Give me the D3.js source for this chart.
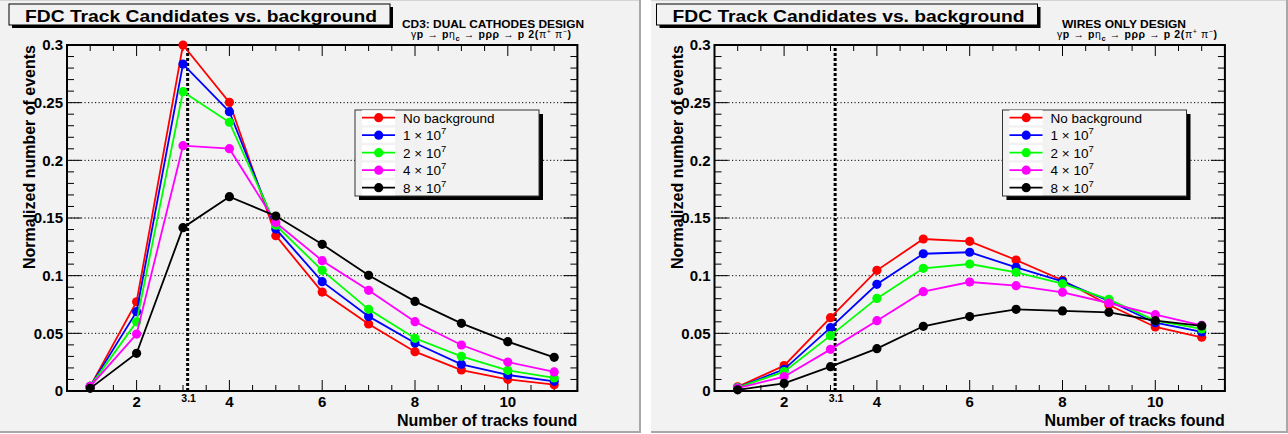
<!DOCTYPE html>
<html>
<head>
<meta charset="utf-8">
<script src="https://cdn.jsdelivr.net/npm/d3@7/dist/d3.min.js"></script>
<style>
  html, body { margin: 0; padding: 0; background: #ffffff; }
  svg { display: block; font-family: "Liberation Sans", Arial, Helvetica, sans-serif; }
</style>
</head>
<body>
<svg id="chart" width="1288" height="434"></svg>
<script>
// Number of tracks found (bin centres)
const trackCounts = [1, 2, 3, 4, 5, 6, 7, 8, 9, 10, 11];

// Background levels, one series per level
const seriesNames = ["No background", "1 × 10^7", "2 × 10^7", "4 × 10^7", "8 × 10^7"];
const seriesColors = ["#ff0000", "#0000ff", "#00ff00", "#ff00ff", "#000000"];

// CD3: dual cathodes design
const cd3NoBackground = [0.004, 0.0774, 0.300, 0.2503, 0.1347, 0.0858, 0.0581, 0.0341, 0.0182, 0.0101, 0.0055];
const cd3Bg1e7 = [0.004, 0.0688, 0.2835, 0.2422, 0.1405, 0.0948, 0.0647, 0.0416, 0.0231, 0.0139, 0.0084];
const cd3Bg2e7 = [0.004, 0.0600, 0.2595, 0.2330, 0.1437, 0.1046, 0.0708, 0.0457, 0.0301, 0.0179, 0.0113];
const cd3Bg4e7 = [0.004, 0.0494, 0.2127, 0.2101, 0.1460, 0.1130, 0.0873, 0.0601, 0.0399, 0.0251, 0.0165];
const cd3Bg8e7 = [0.0023, 0.0327, 0.1416, 0.1685, 0.1517, 0.1272, 0.1003, 0.0777, 0.0587, 0.0428, 0.0292];

// Wires only design
const wiresNoBackground = [0.0037, 0.0220, 0.0636, 0.1046, 0.1318, 0.1298, 0.1136, 0.0960, 0.0746, 0.0555, 0.0466];
const wiresBg1e7 = [0.0030, 0.0188, 0.0549, 0.0925, 0.1190, 0.1203, 0.1072, 0.0951, 0.0780, 0.0592, 0.0512];
const wiresBg2e7 = [0.0030, 0.0168, 0.0480, 0.0803, 0.1064, 0.1101, 0.1029, 0.0930, 0.0795, 0.0610, 0.0538];
const wiresBg4e7 = [0.0025, 0.0124, 0.0361, 0.0610, 0.0861, 0.0945, 0.0913, 0.0856, 0.0763, 0.0662, 0.0570];
const wiresBg8e7 = [0.0010, 0.0066, 0.0211, 0.0367, 0.0561, 0.0645, 0.0708, 0.0694, 0.0682, 0.0610, 0.0564];

// Axis ticks
const xTickValues = [2, 4, 6, 8, 10];
const yTickValues = [0, 0.05, 0.1, 0.15, 0.2, 0.25, 0.3];
const yTickLabels = ["0", "0.05", "0.1", "0.15", "0.2", "0.25", "0.3"];
const gridValues = [0.05, 0.1, 0.15, 0.2, 0.25];
const cutValue = 3.1;

const panels = [
  { dx: 0, canvas: [0, 0, 641, 433], design: "CD3: DUAL CATHODES DESIGN", designX: 402, designW: 182, reactionX: 411,
    series: [cd3NoBackground, cd3Bg1e7, cd3Bg2e7, cd3Bg4e7, cd3Bg8e7] },
  { dx: 647.5, canvas: [651, 0, 637, 433], design: "WIRES ONLY DESIGN", designX: 1062, designW: 124, reactionX: 1057,
    series: [wiresNoBackground, wiresBg1e7, wiresBg2e7, wiresBg4e7, wiresBg8e7] }
];

const svg = d3.select("#chart");
const bg = "#f2f2f2";

function drawPanel(p) {
  const [cx, cy, cw, ch] = p.canvas;
  const root = svg.append("g");

  // pad with bevelled edge
  root.append("rect").attr("x", cx).attr("y", cy).attr("width", cw).attr("height", ch).attr("fill", bg);
  root.append("line").attr("x1", cx).attr("x2", cx + cw).attr("y1", cy + 0.5).attr("y2", cy + 0.5)
    .attr("stroke", "#d4d4d4").attr("stroke-width", 1);
  root.append("rect").attr("x", cx + cw - 2).attr("y", cy).attr("width", 2).attr("height", ch).attr("fill", "#a8a8a8");
  root.append("rect").attr("x", cx).attr("y", cy + ch - 2).attr("width", cw).attr("height", 2).attr("fill", "#a8a8a8");

  const g = root.append("g").attr("transform", `translate(${p.dx},0)`);
  const x = d3.scaleLinear().domain([0.5, 11.5]).range([67, 577.4]);
  const y = d3.scaleLinear().domain([0, 0.3]).range([391, 45]);
  const [x0, x1] = x.range();
  const [y0, y1] = y.range();

  // horizontal dotted grid
  g.append("g").selectAll("line").data(gridValues).join("line")
    .attr("x1", x0).attr("x2", x1).attr("y1", d => y(d)).attr("y2", d => y(d))
    .attr("stroke", "#000").attr("stroke-width", 1).attr("stroke-dasharray", "1.2,2.3");

  // cut line
  g.append("line").attr("x1", x(cutValue)).attr("x2", x(cutValue)).attr("y1", y(0)).attr("y2", y(0.3))
    .attr("stroke", "#000").attr("stroke-width", 3).attr("stroke-dasharray", "3,2");

  // ticks on all four sides
  const ticks = g.append("g").attr("stroke", "#000").attr("stroke-width", 1);
  const xMinor = d3.range(1, 11.51, 0.5);
  xMinor.forEach(v => {
    const major = xTickValues.includes(v);
    const len = major ? 11 : 6;
    ticks.append("line").attr("x1", x(v)).attr("x2", x(v)).attr("y1", y0).attr("y2", y0 - len);
    ticks.append("line").attr("x1", x(v)).attr("x2", x(v)).attr("y1", y1).attr("y2", y1 + len);
  });
  const yMinor = d3.range(0, 0.3001, 0.01);
  yMinor.forEach((v, i) => {
    const len = i % 5 === 0 ? 14 : 7;
    ticks.append("line").attr("x1", x0).attr("x2", x0 + len).attr("y1", y(v)).attr("y2", y(v));
    ticks.append("line").attr("x1", x1).attr("x2", x1 - len).attr("y1", y(v)).attr("y2", y(v));
  });

  // frame
  g.append("rect").attr("x", x0).attr("y", y1).attr("width", x1 - x0).attr("height", y0 - y1)
    .attr("fill", "none").attr("stroke", "#000").attr("stroke-width", 2);

  // tick labels
  g.append("g").selectAll("text").data(xTickValues).join("text")
    .attr("x", d => x(d)).attr("y", 407).attr("text-anchor", "middle")
    .attr("font-size", 15).attr("font-weight", "bold").text(d => d);
  g.append("g").selectAll("text").data(yTickValues).join("text")
    .attr("x", 63).attr("y", d => y(d) + 5.3).attr("text-anchor", "end")
    .attr("font-size", 15).attr("font-weight", "bold").text((d, i) => yTickLabels[i]);
  g.append("text").attr("x", x(cutValue) + 1).attr("y", 402).attr("text-anchor", "middle")
    .attr("font-size", 10.5).attr("font-weight", "bold").text(cutValue);

  // axis titles
  g.append("text").attr("x", x1).attr("y", 426).attr("text-anchor", "end")
    .attr("font-size", 16).attr("font-weight", "bold").text("Number of tracks found");
  g.append("text").attr("transform", "translate(35,45) rotate(-90)").attr("text-anchor", "end")
    .attr("font-size", 16).attr("font-weight", "bold").text("Normalized number of events");

  // series
  const line = d3.line().x((d, i) => x(trackCounts[i])).y(d => y(d));
  p.series.forEach((vals, s) => {
    const sg = g.append("g");
    sg.append("path").attr("d", line(vals)).attr("fill", "none")
      .attr("stroke", seriesColors[s]).attr("stroke-width", 1.8);
    sg.selectAll("circle").data(vals).join("circle")
      .attr("cx", (d, i) => x(trackCounts[i])).attr("cy", d => y(d)).attr("r", 4.6)
      .attr("fill", seriesColors[s]);
  });

  // legend
  const lg = g.append("g");
  const lx = 355, ly = 110, lw = 184, lh = 86;
  lg.append("rect").attr("x", lx + 4).attr("y", ly + 4).attr("width", lw).attr("height", lh).attr("fill", "#000");
  lg.append("rect").attr("x", lx).attr("y", ly).attr("width", lw).attr("height", lh)
    .attr("fill", bg).attr("stroke", "#333").attr("stroke-width", 1);
  seriesNames.forEach((name, s) => {
    const ry = 117.7 + s * 17.5;
    lg.append("rect").attr("x", 362).attr("y", ry - 7.5).attr("width", 33).attr("height", 15).attr("fill", "#fff");
    lg.append("line").attr("x1", 362).attr("x2", 395).attr("y1", ry).attr("y2", ry)
      .attr("stroke", seriesColors[s]).attr("stroke-width", 1.8);
    lg.append("circle").attr("cx", 378.7).attr("cy", ry).attr("r", 4.6).attr("fill", seriesColors[s]);
    const t = lg.append("text").attr("x", 403).attr("y", ry + 5).attr("font-size", 13.5).attr("fill", "#000");
    const parts = name.split("^");
    t.append("tspan").text(parts[0]);
    if (parts[1]) t.append("tspan").attr("dy", -6).attr("font-size", 9.5).text(parts[1]);
  });

  // title box
  const tb = g.append("g");
  tb.append("rect").attr("x", 12).attr("y", 7).attr("width", 381).attr("height", 21).attr("fill", "#000");
  tb.append("rect").attr("x", 9).attr("y", 4).attr("width", 381).attr("height", 21)
    .attr("fill", bg).attr("stroke", "#000").attr("stroke-width", 1);
  tb.append("text").attr("x", 25).attr("y", 21.5)
    .attr("font-size", 16.5).attr("font-weight", "bold")
    .attr("textLength", 352).attr("lengthAdjust", "spacingAndGlyphs")
    .text("FDC Track Candidates vs. background");

  // design label and reaction
  root.append("text").attr("x", p.designX).attr("y", 27.5).attr("font-size", 10.5).attr("font-weight", "bold")
    .attr("textLength", p.designW).attr("lengthAdjust", "spacingAndGlyphs")
    .text(p.design);
  const r = root.append("text").attr("x", p.reactionX).attr("y", 38).attr("font-size", 10.5);
  const seg = (txt, bold, opts) => {
    const ts = r.append("tspan").text(txt).attr("font-weight", bold ? "bold" : "normal");
    if (opts) Object.entries(opts).forEach(([k, v]) => ts.attr(k, v));
    return ts;
  };
  seg("γ", false); seg("p", true); seg(" → ", false); seg("p", true); seg("η", false);
  seg("c", true, { dy: 3, "font-size": 7.5 }); seg(" → ", false, { dy: -3 }); seg("p", true); seg("ρρ", true);
  seg(" → ", false); seg("p 2(", true); seg("π", false); seg("+", false, { dy: -4, "font-size": 7 });
  seg(" π", false, { dy: 4 }); seg("−", false, { dy: -4, "font-size": 7 }); seg(")", true, { dy: 4 });
  r.attr("textLength", 160).attr("lengthAdjust", "spacing");
}

panels.forEach(drawPanel);
</script>
</body>
</html>
